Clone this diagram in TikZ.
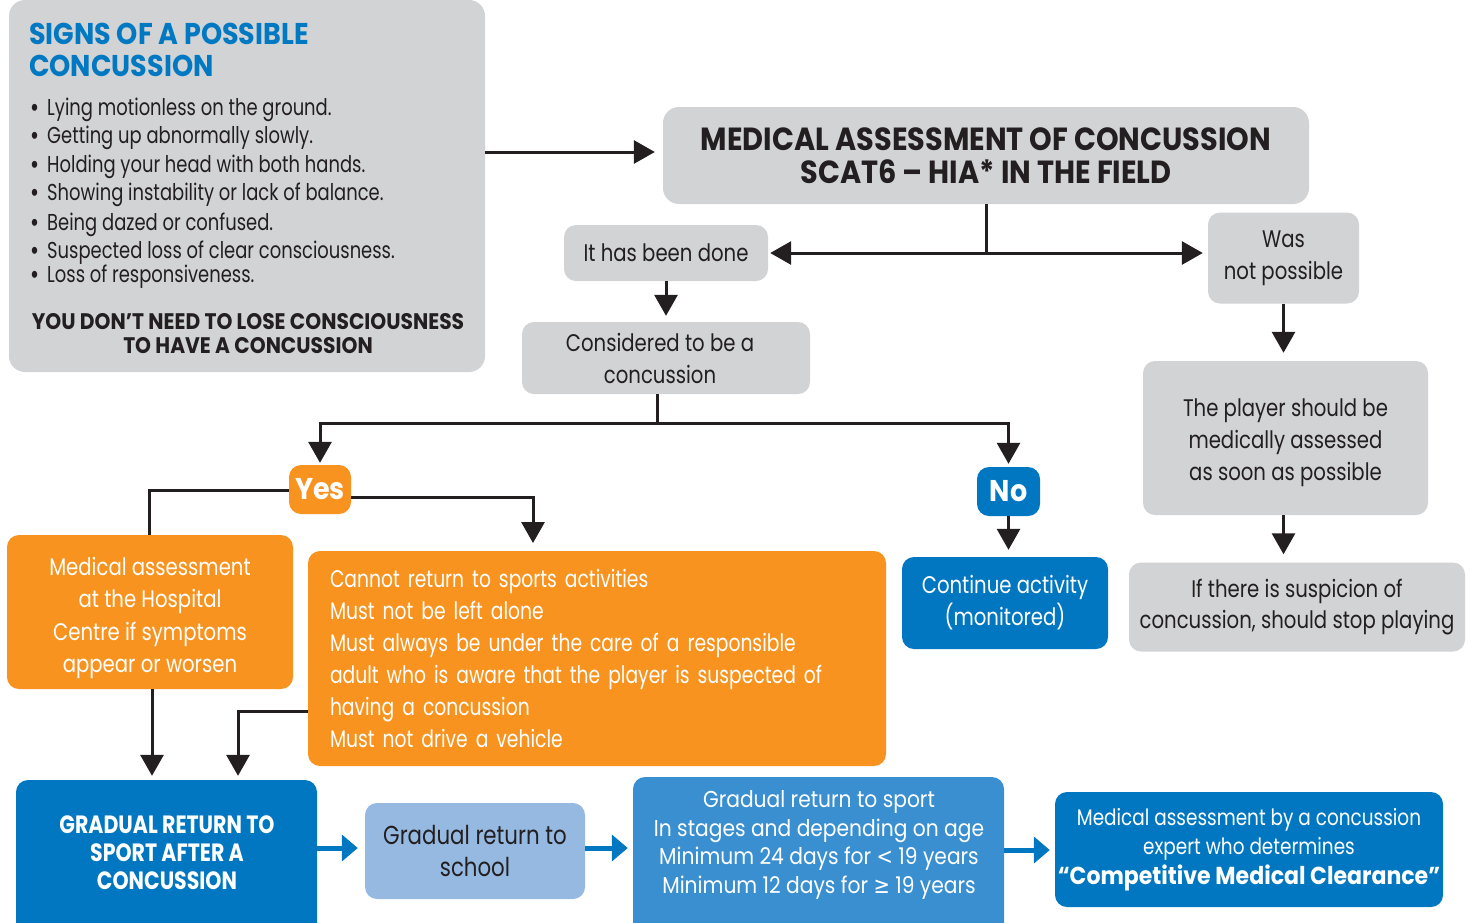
\documentclass[tikz,border=0pt]{standalone}
\usepackage{fontspec}
\setmainfont{Poppins}
\newfontfamily\lightf{Poppins}[FakeStretch=0.82]
\newfontfamily\narrowf{Poppins}[FakeStretch=0.78]
\newfontfamily\heavyf{Poppins}[FakeStretch=0.9]
\newfontfamily\condf{Poppins}[FakeStretch=0.82]
\newfontfamily\widef{Poppins}[FakeStretch=0.88]
\newfontfamily\symf{DejaVu Sans}[FakeStretch=0.85]
\usetikzlibrary{arrows.meta,calc}
\definecolor{cgray}{HTML}{D1D3D4}
\definecolor{corange}{HTML}{F7931E}
\definecolor{cblue}{HTML}{0077C0}
\definecolor{cmid}{HTML}{3A8FD0}
\definecolor{clight}{HTML}{95B9E1}
\definecolor{ctitle}{HTML}{0079C2}
\definecolor{cdark}{HTML}{231F20}
\tikzset{
  base/.style={rounded corners=12pt, inner sep=0pt, align=center},
  gbox/.style={base, fill=cgray, text=cdark, font=\lightf\fontsize{24}{32}\selectfont},
  obox/.style={base, fill=corange, text=white, font=\lightf\fontsize{24}{32}\selectfont},
  bbox/.style={base, fill=cblue, text=white, font=\lightf\fontsize{24}{32}\selectfont},
  txt/.style={inner sep=0pt, align=center},
  ln/.style={draw=cdark, line width=3pt},
  arr/.style={ln, -{Triangle[width=23pt,length=21pt]}},
  barr/.style={draw=cblue, line width=5pt, -{Triangle[width=26pt,length=16pt]}},
}
\begin{document}
\begin{tikzpicture}[x=1pt,y=-1pt]
\useasboundingbox (0,0) rectangle (1479,922);
% boxes
\node[gbox, rounded corners=16pt, minimum width=476pt, minimum height=372pt] (signs) at (247,186) {};
\node[anchor=base west, inner sep=0pt, align=left, text=ctitle, font=\heavyf\bfseries\fontsize{30}{32}\selectfont] (title) at (29,76) {SIGNS OF A POSSIBLE\\CONCUSSION};
\foreach \y/\t [count=\i] in {115/Lying motionless on the ground.,143/Getting up abnormally slowly.,172/Holding your head with both hands.,200/Showing instability or lack of balance.,230/Being dazed or confused.,258/Suspected loss of clear consciousness.,282/Loss of responsiveness.}{
  \node[anchor=base west, inner sep=0pt, text=cdark, font=\narrowf\fontsize{23}{28}\selectfont] (sign\i) at (30,\y) {\makebox[17pt][l]{\bfseries •}\t};
}
\node[anchor=base, align=center, inner sep=0pt, text=cdark, font=\heavyf\bfseries\fontsize{22.5}{23.5}\selectfont] (warn) at (248,353) {YOU DON’T NEED TO LOSE CONSCIOUSNESS\\TO HAVE A CONCUSSION};

\node[gbox, rounded corners=16pt, minimum width=646pt, minimum height=97pt, font=\heavyf\bfseries\fontsize{32}{33}\selectfont] (ma) at (986,155.5) {MEDICAL ASSESSMENT OF CONCUSSION\\SCAT6 – HIA* IN THE FIELD};
\node[gbox, minimum width=204pt, minimum height=56pt] (done) at (666,253) {It has been done};
\node[gbox, minimum width=288pt, minimum height=72pt] (cons) at (666,358) {};
\node[txt, text=cdark, font=\lightf\fontsize{24}{32}\selectfont] (constxt) at (660,358) {Considered to be a\\concussion};
\node[gbox, minimum width=151pt, minimum height=91pt] (was) at (1283.5,258) {Was\\not possible};
\node[gbox, minimum width=285pt, minimum height=154pt] (player) at (1285.5,438) {};
\node[txt, text=cdark, font=\lightf\fontsize{24}{32}\selectfont] (playertxt) at (1285.5,443) {The player should be\\medically assessed\\as soon as possible};
\node[gbox, minimum width=336pt, minimum height=89pt, font=\lightf\fontsize{24}{31}\selectfont] (ifthere) at (1297,607) {If there is suspicion of\\concussion, should stop playing};

\node[obox, minimum width=62pt, minimum height=49pt, font=\heavyf\bfseries\fontsize{30}{30}\selectfont] (yes) at (320,489.5) {Yes};
\node[bbox, minimum width=63pt, minimum height=49pt, font=\heavyf\bfseries\fontsize{30}{30}\selectfont] (no) at (1008.5,491.5) {No};
\node[obox, minimum width=286pt, minimum height=154pt] (hosp) at (150,612) {};
\node[txt, text=white, font=\lightf\fontsize{24}{32.5}\selectfont] (hosptxt) at (150,618) {Medical assessment\\at the Hospital\\Centre if symptoms\\appear or worsen};
\node[obox, minimum width=578pt, minimum height=215pt, align=left, text width=534pt, inner xsep=22pt, font=\narrowf\fontsize{24}{32}\selectfont] (care) at (597,658.5) {Cannot return to sports activities\\Must not be left alone\\Must always be under the care of a responsible\\adult who is aware that the player is suspected of\\having a concussion\\Must not drive a vehicle};
\node[bbox, minimum width=206pt, minimum height=92pt] (cont) at (1005,603) {Continue activity\\(monitored)};

\node[bbox, minimum width=301pt, minimum height=155pt] (grad) at (166.5,857.5) {};
\node[txt, text=white, font=\condf\bfseries\fontsize{25}{28}\selectfont] (gradtxt) at (167,853) {GRADUAL RETURN TO\\SPORT AFTER A\\CONCUSSION};
\node[base, fill=clight, text=cdark, minimum width=220pt, minimum height=96pt, font=\lightf\fontsize{26}{32}\selectfont] (school) at (475,851) {Gradual return to\\school};
\node[base, fill=cmid, minimum width=371pt, minimum height=158pt] (sport) at (818.5,856) {};
\node[txt, text=white, font=\widef\fontsize{23}{28.7}\selectfont] (sporttxt) at (819,845) {Gradual return to sport\\In stages and depending on age\\Minimum 24 days for {\symf <} 19 years\\Minimum 12 days for {\symf ≥} 19 years};
\node[bbox, minimum width=388pt, minimum height=115pt, font=\lightf\fontsize{22.5}{29.5}\selectfont] (clear) at (1249,849.5) {Medical assessment by a concussion\\expert who determines\\{\heavyf\bfseries\fontsize{24.5}{29.5}\selectfont “Competitive Medical Clearance”}};

% connectors
\draw[arr, shorten >=8pt] (signs.east |- 0,152) -- (ma.west |- 0,152);
\coordinate (split) at (ma.south |- done.east);
\draw[ln] (ma.south) -- (split);
\draw[arr, shorten >=2pt] (split) -- (done.east);
\draw[arr, shorten >=5pt] (split) -- (was.west |- done.east);
\draw[arr, shorten >=6pt] (done.south) -- (cons.north);
\coordinate (csplit) at ($(cons.south)+(-9,29)$);
\draw[ln] (cons.south -| csplit) -- (csplit);
\draw[arr, shorten >=2pt] (csplit) -| (yes.north);
\draw[arr, shorten >=3pt] (csplit) -| (no.north);
\draw[ln] (yes.west |- 0,490) -| (hosp.north -| 149,0);
\coordinate (carein) at (533,551);
\draw[arr, shorten >=8pt] (yes.east |- 0,497) -| (carein);
\draw[arr, shorten >=7pt] (no.south) -- (cont.north -| no.south);
\draw[arr, shorten >=4pt] (hosp.south -| 152,0) -- (grad.north -| 152,0);
\draw[arr, shorten >=4pt] (care.west |- 0,711) -| (grad.north -| 238,0);
\draw[arr, shorten >=8pt] (was.south) -- (player.north -| was.south);
\draw[arr, shorten >=8pt] (player.south -| was.south) -- (ifthere.north -| was.south);
\draw[barr, shorten >=7pt] (grad.east |- 0,848) -- (school.west |- 0,848);
\draw[barr, shorten >=5pt] (school.east |- 0,848) -- (sport.west |- 0,848);
\draw[barr, shorten >=5pt] (sport.east |- 0,850) -- (clear.west |- 0,850);
\end{tikzpicture}
\end{document}
